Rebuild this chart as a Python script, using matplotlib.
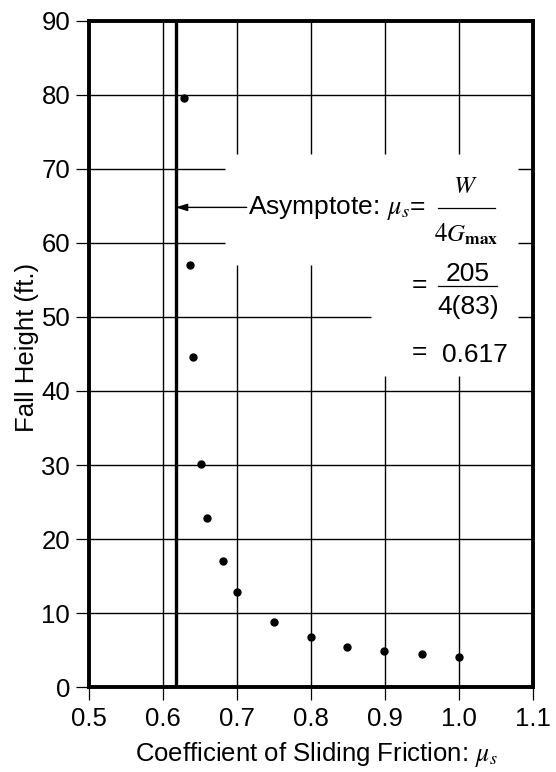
import numpy as np
import matplotlib
matplotlib.use("Agg")
import matplotlib.pyplot as plt

# Fall height vs. coefficient of sliding friction
mu_s = [0.628, 0.636, 0.640, 0.651, 0.660, 0.681, 0.700, 0.750, 0.800, 0.849, 0.899, 0.950, 1.000]
fall_height = [79.6, 57.0, 44.6, 30.1, 22.9, 17.0, 12.9, 8.8, 6.8, 5.4, 4.9, 4.5, 4.1]

# Asymptote: mu_s = W / (4 G_max)
W = 205
G_max = 83
asymptote = 0.617

x_ticks = [0.5, 0.6, 0.7, 0.8, 0.9, 1.0, 1.1]
x_tick_labels = ["0.5", "0.6", "0.7", "0.8", "0.9", "1.0", "1.1"]
y_ticks = [0, 10, 20, 30, 40, 50, 60, 70, 80, 90]

plt.rcParams['font.family'] = ['Liberation Sans', 'DejaVu Sans']
plt.rcParams['mathtext.fontset'] = 'stix'

fig = plt.figure(figsize=(5.56, 7.72), dpi=100)
ax = fig.add_axes([0.160, 0.110, 0.799, 0.863])
ax.set_xlim(0.5, 1.1)
ax.set_ylim(0, 90)

# grid, broken where the annotation sits
gl = dict(color='black', lw=1.0, zorder=1)
ax.vlines(0.6, 0, 90, **gl)
for x in [0.7, 0.8]:
    ax.vlines(x, 0, 57, **gl)
    ax.vlines(x, 72, 90, **gl)
for x in [0.9, 1.0]:
    ax.vlines(x, 0, 42, **gl)
    ax.vlines(x, 72, 90, **gl)
for y in [10, 20, 30, 40, 80]:
    ax.hlines(y, 0.5, 1.1, **gl)
for y in [60, 70]:
    ax.hlines(y, 0.5, 0.684, **gl)
    ax.hlines(y, 1.08, 1.1, **gl)
ax.hlines(50, 0.5, 0.881, **gl)
ax.hlines(50, 1.08, 1.1, **gl)

# asymptote
ax.axvline(asymptote, color='black', lw=2.4, zorder=2)

# data points
ax.plot(mu_s, fall_height, 'o', color='black', ms=5, zorder=3, clip_on=False)

# annotation
fs = 19
ax.annotate("", xy=(asymptote, 64.8), xytext=(0.713, 64.8),
            arrowprops=dict(arrowstyle='-|>,head_length=0.7,head_width=0.22',
                            color='black', lw=1.0, shrinkA=0, shrinkB=0))
ax.text(0.715, 63.9, r"Asymptote: $\mu_s$=", fontsize=fs, ha='left', va='baseline')
ax.text(1.009, 66.8, r"$W$", fontsize=18, ha='center', va='baseline')
ax.plot([0.972, 1.049], [64.7, 64.7], color='black', lw=0.9)
ax.text(1.010, 60.1, r"$\mathrm{4}G_{\mathbf{max}}$", fontsize=18, ha='center', va='baseline')

ax.text(0.947, 54.3, "=", fontsize=fs, ha='center', va='center')
ax.text(1.012, 54.8, str(W), fontsize=fs, ha='center', va='baseline')
ax.plot([0.972, 1.051], [54.2, 54.2], color='black', lw=0.9)
ax.text(1.012, 50.4, "4(%d)" % G_max, fontsize=fs, ha='center', va='baseline')

ax.text(0.947, 45.3, "=", fontsize=fs, ha='center', va='center')
ax.text(0.977, 43.9, "%.3f" % asymptote, fontsize=fs, ha='left', va='baseline')

# axes styling
for s in ax.spines.values():
    s.set_linewidth(2.8)
ax.set_xticks(x_ticks)
ax.set_xticklabels(x_tick_labels)
ax.set_yticks(y_ticks)
ax.tick_params(axis='both', direction='out', length=9.5, width=0.9, labelsize=18.5, pad=4)
ax.tick_params(axis='x', pad=5)
ax.set_xlabel(r"Coefficient of Sliding Friction: $\mu_s$", fontsize=18.5)
ax.xaxis.set_label_coords(0.512, -0.079)
ax.set_ylabel("Fall Height (ft.)", fontsize=18.5)
ax.yaxis.set_label_coords(-0.112, 0.51)

fig.savefig("out.png", dpi=100)
